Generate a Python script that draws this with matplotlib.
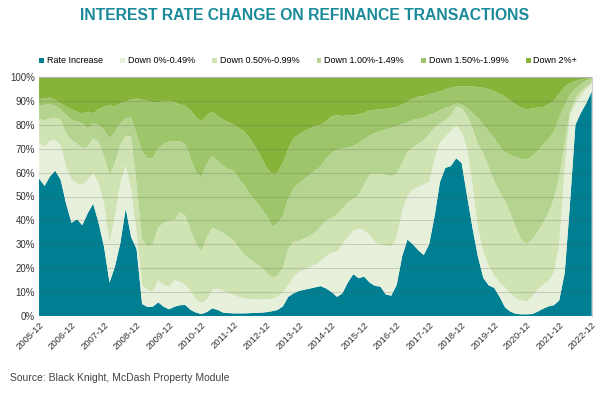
import numpy as np
import pandas as pd
import matplotlib
matplotlib.use('Agg')
import matplotlib.pyplot as plt

plt.rcParams['font.family'] = ['Liberation Sans', 'DejaVu Sans']

# Every two months, 2005-12 .. 2022-12
months = pd.date_range('2005-12-01', '2022-12-01', freq='2MS')

# Upper edge of each band, in % of refinance transactions (stacked)
rate_increase = [57.6, 54.4, 58.3, 60.8, 57, 47, 39, 40.5, 38, 43, 47, 39, 29, 14, 20.6, 30.4, 45, 33, 28, 5,
                 3.8, 3.9, 5.7, 3.9, 2.8, 3.9, 4.5, 4.6, 2.5, 1.4, 0.8, 1.7, 3.2, 2.5, 1.4, 1.2, 1.1, 1.1, 1.1, 1.2,
                 1.3, 1.4, 1.6, 2, 2.5, 4, 8, 9.5, 10.5, 11, 11.5, 12, 12.5, 11.5, 10, 8, 9.5, 14, 17.5, 15.8,
                 16.5, 14, 12.6, 12.3, 9, 8.5, 13, 25, 32, 30, 27.5, 25.5, 30, 42, 56, 62, 62.7, 66, 64, 50,
                 37, 25, 16, 12.8, 11.8, 8, 3.6, 1.8, 0.9, 0.7, 0.7, 0.8, 1.8, 3, 4, 4.5, 6.5, 18, 47, 80,
                 85, 89, 94]
edge_down_049 = [72.5, 70.8, 73.4, 73.6, 71.5, 62.5, 57, 55.5, 54.8, 57, 59.7, 55.5, 47, 30.4, 41.6, 55.5, 63, 53, 35, 13,
                 10.9, 10.2, 15, 13, 12.3, 15, 14.4, 13, 10.2, 6.7, 5.5, 7, 11, 11.5, 10.5, 9.5, 8.8, 7.8, 7.4, 7,
                 7, 7, 7, 7.2, 8, 10, 13, 16.5, 18.5, 19.5, 20.5, 21.5, 23, 25, 26.5, 27, 30, 33, 35.5, 36.5,
                 36, 34, 31, 29.8, 29.5, 29, 33, 44, 50, 53, 54, 55, 56, 66, 72.4, 75, 77.3, 79.5, 77, 70,
                 55, 37, 27, 21, 17, 14, 12, 9.5, 7.4, 6.5, 6, 8, 11, 13, 14.5, 18, 30, 62, 84, 89,
                 92, 95, 97]
edge_down_099 = [82.3, 82, 82.7, 83, 82, 76.4, 73.6, 72.2, 70.2, 70.8, 74.3, 73, 66.7, 59, 63.9, 71.5, 75.5, 75, 55, 32,
                 29, 30, 37, 39, 40, 40, 43.5, 42, 36, 30, 27, 33, 37, 36, 34.7, 33, 31.5, 28, 25.5, 23.5,
                 22, 20.5, 18, 16, 17, 20, 28, 31, 31.5, 32.5, 33.5, 35, 37.5, 40, 41, 42.5, 45, 47.5, 49, 50.5,
                 55, 59.2, 59.5, 59.5, 59, 58.5, 59.5, 64, 68.5, 70.5, 72, 73.5, 76, 79, 80.5, 82, 84, 87.5, 87, 84,
                 78.5, 72, 68, 62.5, 56.5, 52, 48, 43, 37, 32, 30, 32, 35, 39, 43, 49, 58, 72, 85, 91,
                 94, 96, 97.6]
edge_down_149 = [87.9, 88.3, 88.7, 87.9, 86.5, 84.1, 82, 81.3, 80.6, 78.5, 80.6, 80, 77.8, 74.3, 77.1, 80.6, 82.7, 83, 76, 69,
                 66, 66, 70, 72, 73, 73, 73.1, 72, 66, 60, 58, 64, 67, 65, 62.7, 61.5, 60.5, 57, 54.5, 50.5,
                 48, 45, 42, 37.5, 38.5, 42, 49, 53.5, 55.5, 57.5, 59, 61, 62.7, 66, 68.3, 69.5, 70, 70.5, 71, 72.5,
                 74, 75.5, 76.5, 77.3, 78, 78.8, 79.4, 80.3, 81.2, 82, 82.5, 83, 84, 85, 86, 87, 87.8, 89, 88.5, 87,
                 85, 83, 80, 77.3, 74.5, 71, 68.5, 67.5, 66.5, 65.8, 65.5, 67, 69, 71.5, 74, 77, 83, 88, 92.5, 95,
                 97, 98.5, 99]
edge_down_199 = [90.7, 91.1, 91.4, 90.4, 89, 87.6, 86.5, 85.5, 84.8, 85.5, 84.8, 86.5, 87.6, 88.3, 87.6, 89, 89.7, 90.5, 91, 90.5,
                 90, 89.5, 89.5, 90, 90, 89.5, 88.5, 88, 86, 83, 81.5, 84, 85.5, 83.5, 82.2, 81, 80, 78.5, 77, 74,
                 70.5, 66.5, 62, 59.5, 60, 64, 70, 74.5, 76, 77.5, 78.5, 79.5, 80, 81.5, 83.6, 84, 83.6, 84, 84, 84.3,
                 85, 86, 86.3, 86.5, 86.7, 87, 87.5, 88.5, 89.5, 91, 91.8, 92, 92.8, 93.4, 94, 94.8, 95.5, 96, 96.2, 96.2,
                 96, 95.8, 95.5, 95, 94.2, 93, 91.8, 90, 88.5, 87.2, 86.5, 86.8, 87.2, 87.5, 88.5, 90, 93, 96, 97.5, 98.3,
                 99, 99.3, 99.6]

labels = ['Rate Increase', 'Down 0%-0.49%', 'Down 0.50%-0.99%', 'Down 1.00%-1.49%',
          'Down 1.50%-1.99%', 'Down 2%+']
colors = ['#007f93', '#e7f0da', '#d0e3b3', '#b5d48f', '#9dc569', '#86b43b']
tick_labels = [f'{y}-12' for y in range(2005, 2023)]

# shares of each band from the stacked edges
edges = np.vstack([np.zeros(len(months)), rate_increase, edge_down_049, edge_down_099,
                   edge_down_149, edge_down_199, np.full(len(months), 100.0)])
shares = np.diff(edges, axis=0)

fig = plt.figure(figsize=(6.1, 3.93), dpi=100)
ax = fig.add_axes([0.064, 0.196, 0.906, 0.608])
polys = ax.stackplot(months, shares, colors=colors, labels=labels, linewidth=0)

ax.set_xlim(months[0], months[-1])
ax.set_ylim(0, 100)
ax.set_yticks(range(0, 101, 10))
ax.set_yticklabels([f'{v}%' for v in range(0, 101, 10)], fontsize=7, color='#333333')
ax.set_xticks(pd.to_datetime([t + '-01' for t in tick_labels]))
ax.set_xticklabels(tick_labels, rotation=45, ha='right', rotation_mode='anchor', fontsize=6.8, color='#333333')
ax.tick_params(length=0, pad=3)

ax.set_axisbelow(False)
ax.yaxis.grid(True, color='#555555', alpha=0.22, linewidth=0.8)
for s in ['left', 'bottom']:
    ax.spines[s].set_visible(False)
for s in ['top', 'right']:
    ax.spines[s].set_color('#cccccc')
    ax.spines[s].set_linewidth(0.8)

fig.legend(polys, labels, loc='center', bbox_to_anchor=(0.505, 0.845), ncol=6, frameon=False,
           fontsize=6.5, handlelength=0.55, handleheight=0.55, handletextpad=0.3, columnspacing=1.9)

fig.text(0.5, 0.96, 'INTEREST RATE CHANGE ON REFINANCE TRANSACTIONS', ha='center', va='center',
         fontsize=11.3, fontweight='bold', color='#1a8a9b')
fig.text(0.017, 0.038, 'Source: Black Knight, McDash Property Module', ha='left', va='center',
         fontsize=7.5, color='#444444')

fig.savefig('out.png', dpi=100)
